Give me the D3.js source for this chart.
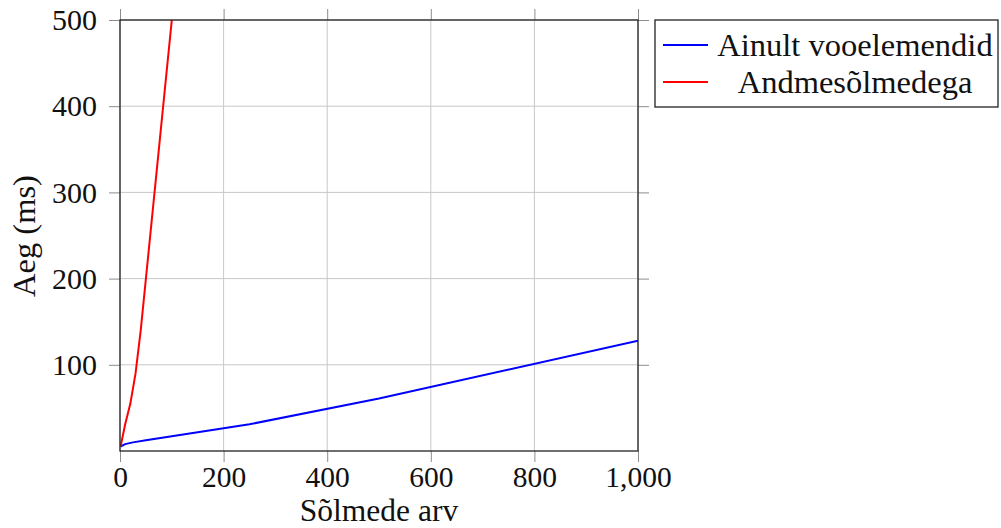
<!DOCTYPE html>
<meta charset="utf-8">
<style>
body { margin: 0; background: #fff; }
text { font-family: "Liberation Serif", serif; fill: #111; }
.grid line { stroke: #c8c8c8; stroke-width: 1; }
.tick line { stroke: #8c8c8c; stroke-width: 1; }
</style>
<svg width="1001" height="528"></svg>
<script src="https://d3js.org/d3.v7.min.js"></script>
<script>
// node counts and timings (ms)
var xBlue = [1, 10, 25, 50, 100, 250, 500, 1000];
var yBlue = [5, 8, 10, 12.5, 17, 31, 61, 128];
var xRed = [1, 10, 20, 30, 40, 50, 100];
var yRed = [5, 31, 55, 90, 140, 200, 500];
var xTicks = [0, 200, 400, 600, 800, 1000];
var yTicks = [100, 200, 300, 400, 500];
var seriesNames = ["Ainult vooelemendid", "Andmesõlmedega"];
var seriesColors = ["#0000ff", "#ff0000"];
</script>
<script>
var svg = d3.select("svg");
var pLeft = 120, pRight = 638, pTop = 20, pBottom = 451, tl = 11;

var x = d3.scaleLinear().domain([0, 1000]).range([pLeft, pRight]);
var y = d3.scaleLinear().domain([0, 500]).range([pBottom, pTop]);

var grid = svg.append("g").attr("class", "grid");
grid.selectAll(".gx").data(xTicks).enter().append("line")
    .attr("x1", function(d) { return x(d); }).attr("x2", function(d) { return x(d); })
    .attr("y1", pTop).attr("y2", pBottom);
grid.selectAll(".gy").data(yTicks).enter().append("line")
    .attr("y1", function(d) { return y(d); }).attr("y2", function(d) { return y(d); })
    .attr("x1", pLeft).attr("x2", pRight);

// outside ticks on all four sides
var fmt = d3.format(",");
svg.append("g").attr("transform", "translate(0," + pBottom + ")")
    .call(d3.axisBottom(x).tickValues(xTicks).tickSize(tl).tickPadding(4).tickFormat(fmt))
    .call(function(g) { g.select(".domain").remove(); })
    .selectAll("text").attr("font-size", 29.5).attr("font-family", "Liberation Serif").attr("fill", "#111");
svg.append("g").attr("transform", "translate(0," + pTop + ")")
    .call(d3.axisTop(x).tickValues(xTicks).tickSize(tl).tickFormat(""))
    .call(function(g) { g.select(".domain").remove(); });
svg.append("g").attr("transform", "translate(" + pLeft + ",0)")
    .call(d3.axisLeft(y).tickValues(yTicks).tickSize(tl).tickPadding(12))
    .call(function(g) { g.select(".domain").remove(); })
    .selectAll("text").attr("font-size", 30).attr("font-family", "Liberation Serif").attr("fill", "#111");
svg.append("g").attr("transform", "translate(" + pRight + ",0)")
    .call(d3.axisRight(y).tickValues(yTicks).tickSize(tl).tickFormat(""))
    .call(function(g) { g.select(".domain").remove(); });

svg.append("clipPath").attr("id", "clip").append("rect")
    .attr("x", pLeft).attr("y", pTop).attr("width", pRight - pLeft).attr("height", pBottom - pTop);

var line = d3.line().x(function(d) { return x(d[0]); }).y(function(d) { return y(d[1]); });
var series = [d3.zip(xBlue, yBlue), d3.zip(xRed, yRed)];
svg.append("g").attr("clip-path", "url(#clip)")
  .selectAll("path").data(series).enter().append("path")
    .attr("d", line)
    .attr("fill", "none")
    .attr("stroke", function(d, i) { return seriesColors[i]; })
    .attr("stroke-width", 2)
    .attr("stroke-linejoin", "round");

svg.append("rect")
    .attr("x", pLeft).attr("y", pTop).attr("width", pRight - pLeft).attr("height", pBottom - pTop)
    .attr("fill", "none").attr("stroke", "#222").attr("stroke-width", 1.3);

svg.append("text").attr("x", (pLeft + pRight) / 2).attr("y", 521)
    .attr("text-anchor", "middle").attr("font-size", 31.5).text("Sõlmede arv");
svg.append("text").attr("transform", "translate(35,236) rotate(-90)")
    .attr("text-anchor", "middle").attr("font-size", 32.5).text("Aeg (ms)");

// legend
var lg = svg.append("g");
lg.append("rect").attr("x", 655).attr("y", 20).attr("width", 343).attr("height", 87)
    .attr("fill", "#fff").attr("stroke", "#222").attr("stroke-width", 1.3);
seriesNames.forEach(function(n, i) {
  var cy = 45 + i * 37;
  lg.append("line").attr("x1", 663).attr("x2", 708).attr("y1", cy).attr("y2", cy)
      .attr("stroke", seriesColors[i]).attr("stroke-width", 2);
  lg.append("text").attr("x", 855).attr("y", cy + 11)
      .attr("text-anchor", "middle").attr("font-size", 32.5).text(n);
});
</script>
